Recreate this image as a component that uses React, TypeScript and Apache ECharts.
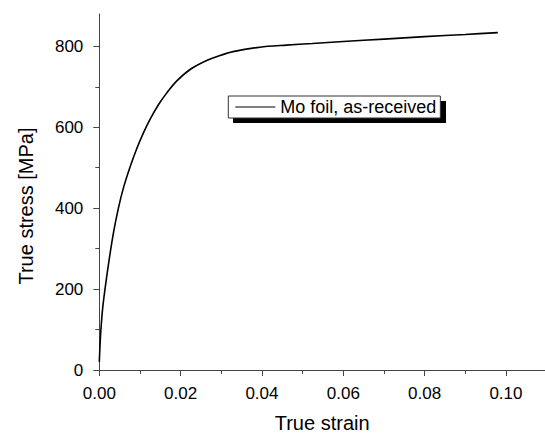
import React, { useEffect, useRef } from "react";
import * as echarts from "echarts";

const strain = [
  0, 0.0002, 0.0004, 0.0008, 0.0014, 0.0024, 0.0035, 0.0047, 0.0059, 0.0075,
  0.0092, 0.0108, 0.0125, 0.0145, 0.0166, 0.019, 0.0225, 0.0264, 0.0295,
  0.0329, 0.0395, 0.046, 0.0524, 0.06, 0.07, 0.08, 0.09, 0.098,
];
const stress = [
  20, 65, 100, 150, 200, 271, 340, 400, 449, 500, 547, 585, 620, 655, 685,
  714, 744, 765, 777, 787, 798, 803, 807, 812, 818, 824, 829.5, 834,
];
const xTicks = [0, 0.02, 0.04, 0.06, 0.08, 0.1];
const yTicks = [0, 200, 400, 600, 800];
const seriesName = "Mo foil, as-received";
const xTitle = "True strain";
const yTitle = "True stress [MPa]";

const FONT = "'Liberation Sans', Arial, Helvetica, sans-serif";

export default function App() {
  const ref = useRef<HTMLDivElement>(null);
  useEffect(() => {
    if (!ref.current) return;
    const chart = echarts.init(ref.current, undefined, { renderer: "svg" });
    const axisColor = "#444";
    chart.setOption({
      animation: false,
      backgroundColor: "#fff",
      grid: { left: 99.3, top: 14, width: 445.7, height: 360.5, containLabel: false },
      xAxis: {
        type: "value",
        min: 0,
        max: 0.1096,
        interval: 0.02,
        name: xTitle,
        nameLocation: "middle",
        nameGap: 43,
        nameTextStyle: { color: "#000", fontSize: 20, fontFamily: FONT },
        axisLine: { show: true, onZero: false, lineStyle: { color: axisColor, width: 1 } },
        axisTick: { show: true, inside: false, length: 6, customValues: xTicks, lineStyle: { color: axisColor } },
        minorTick: { show: true, splitNumber: 2, length: 4, lineStyle: { color: axisColor } },
        axisLabel: {
          color: "#000",
          fontSize: 17,
          fontFamily: FONT,
          margin: 15,
          customValues: xTicks,
          formatter: (v: number) => v.toFixed(2),
        },
        splitLine: { show: false },
      },
      yAxis: {
        type: "value",
        min: 0,
        max: 880,
        interval: 200,
        axisLine: { show: true, onZero: false, lineStyle: { color: axisColor, width: 1 } },
        axisTick: { show: true, inside: false, length: 6, customValues: yTicks, lineStyle: { color: axisColor } },
        minorTick: { show: true, splitNumber: 2, length: 4, lineStyle: { color: axisColor } },
        axisLabel: {
          color: "#000",
          fontSize: 17,
          fontFamily: FONT,
          margin: 16,
          customValues: yTicks,
        },
        splitLine: { show: false },
      },
      legend: {
        show: true,
        left: 228.3,
        top: 96,
        orient: "horizontal",
        padding: [2, 4, 2, 7],
        icon: "rect",
        itemWidth: 40,
        itemHeight: 1.2,
        itemGap: 4,
        itemStyle: { color: "#000", borderWidth: 0 },
        backgroundColor: "#fff",
        borderColor: "#333",
        borderWidth: 1,
        textStyle: { color: "#000", fontSize: 18, fontFamily: FONT },
        data: [seriesName],
      },
      graphic: [
        {
          type: "rect",
          z: 1,
          shape: { x: 233, y: 101, width: 213, height: 22 },
          style: { fill: "#000" },
        },
        {
          type: "text",
          x: 26,
          y: 206,
          rotation: Math.PI / 2,
          style: {
            text: yTitle,
            fill: "#000",
            font: `20px ${FONT}`,
            align: "center",
            verticalAlign: "middle",
          },
        },
      ],
      series: [
        {
          name: seriesName,
          type: "line",
          data: strain.map((s, i) => [s, stress[i]]),
          symbol: "none",
          showSymbol: false,
          smooth: 0.3,
          lineStyle: { color: "#000", width: 1.6 },
          itemStyle: { color: "#000" },
        },
      ],
    });
    return () => chart.dispose();
  }, []);
  return (
    <div
      ref={ref}
      style={{ position: "fixed", left: 0, top: 0, width: 545, height: 438, background: "#fff" }}
    />
  );
}
